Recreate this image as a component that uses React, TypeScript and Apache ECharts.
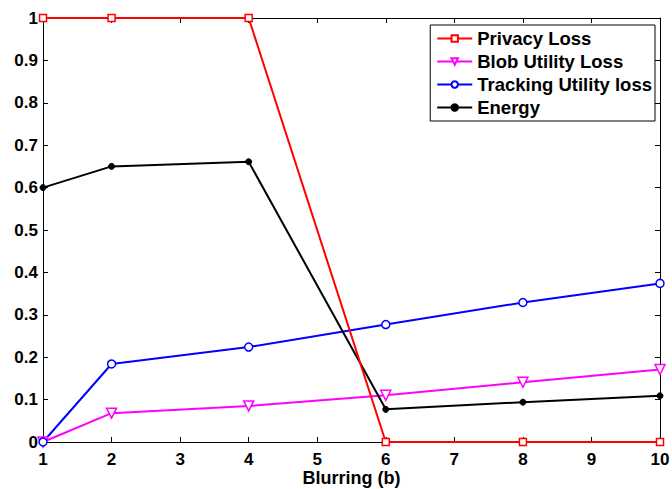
import React, { useEffect, useRef } from "react";
import * as echarts from "echarts";

const blurring = [1, 2, 4, 6, 8, 10];
const privacyLoss = [1, 1, 1, 0, 0, 0];
const blobUtilityLoss = [0, 0.068, 0.085, 0.11, 0.141, 0.171];
const trackingUtilityLoss = [0, 0.184, 0.224, 0.277, 0.329, 0.374];
const energy = [0.6, 0.65, 0.661, 0.077, 0.094, 0.109];

const seriesNames = ["Privacy Loss", "Blob Utility Loss", "Tracking Utility loss", "Energy"];

const pair = (ys: number[]) => blurring.map((x, i) => [x, ys[i]]);

export default function App() {
  const ref = useRef<HTMLDivElement>(null);
  useEffect(() => {
    if (!ref.current) return;
    const chart = echarts.init(ref.current, null, { renderer: "svg" });
    const font = { fontFamily: "Liberation Sans, Arial, sans-serif", fontWeight: "bold" as const, color: "#000" };
    const axisCommon = {
      axisLine: { show: true, onZero: false, lineStyle: { color: "#000", width: 1 } },
      axisTick: { show: true, inside: true, length: 5, lineStyle: { color: "#000" } },
      splitLine: { show: false },
    };
    chart.setOption({
      animation: false,
      backgroundColor: "#fff",
      grid: { left: 43, right: 12, top: 18, bottom: 47, containLabel: false, outerBoundsMode: "none" },
      legend: {
        orient: "vertical",
        right: 17,
        top: 25,
        data: seriesNames,
        backgroundColor: "#fff",
        borderColor: "#000",
        borderWidth: 1,
        borderRadius: 0,
        padding: [3, 3, 3, 6],
        itemGap: 2,
        itemWidth: 35,
        itemHeight: 8,
        textStyle: { ...font, fontSize: 18.5, lineHeight: 21 },
      },
      xAxis: [
        {
          type: "value",
          min: 1,
          max: 10,
          interval: 1,
          name: "Blurring (b)",
          nameLocation: "middle",
          nameGap: 27,
          nameMoveOverlap: false,
          nameTextStyle: { ...font, fontSize: 18, lineHeight: 18 },
          axisLabel: { ...font, fontSize: 17, lineHeight: 17, margin: 9 },
          ...axisCommon,
        },
        {
          type: "value",
          position: "top",
          min: 1,
          max: 10,
          interval: 1,
          axisLabel: { show: false },
          ...axisCommon,
        },
      ],
      yAxis: [
        {
          type: "value",
          min: 0,
          max: 1,
          interval: 0.1,
          axisLabel: { ...font, fontSize: 17, margin: 5 },
          ...axisCommon,
        },
        {
          type: "value",
          position: "right",
          min: 0,
          max: 1,
          interval: 0.1,
          axisLabel: { show: false },
          ...axisCommon,
        },
      ],
      series: [
        {
          name: seriesNames[0],
          type: "line",
          data: pair(privacyLoss),
          clip: false,
          symbol: "rect",
          symbolSize: 7,
          lineStyle: { color: "#ff0000", width: 2 },
          itemStyle: { color: "#fff", borderColor: "#ff0000", borderWidth: 1.5 },
          z: 4,
        },
        {
          name: seriesNames[1],
          type: "line",
          data: pair(blobUtilityLoss),
          clip: false,
          symbol: "triangle",
          symbolRotate: 180,
          symbolSize: 10,
          lineStyle: { color: "#ff00ff", width: 2 },
          itemStyle: { color: "#fff", borderColor: "#ff00ff", borderWidth: 1.5 },
          z: 3,
        },
        {
          name: seriesNames[2],
          type: "line",
          data: pair(trackingUtilityLoss),
          clip: false,
          symbol: "circle",
          symbolSize: 8,
          lineStyle: { color: "#0000ff", width: 2 },
          itemStyle: { color: "#fff", borderColor: "#0000ff", borderWidth: 1.5 },
          z: 3,
        },
        {
          name: seriesNames[3],
          type: "line",
          data: pair(energy),
          clip: false,
          symbol: "circle",
          symbolSize: 6,
          lineStyle: { color: "#000", width: 2 },
          itemStyle: { color: "#000", borderColor: "#000", borderWidth: 1 },
          z: 3,
        },
      ],
    });
    return () => chart.dispose();
  }, []);
  return <div ref={ref} style={{ width: 672, height: 489, position: "absolute", left: 0, top: 0 }} />;
}
